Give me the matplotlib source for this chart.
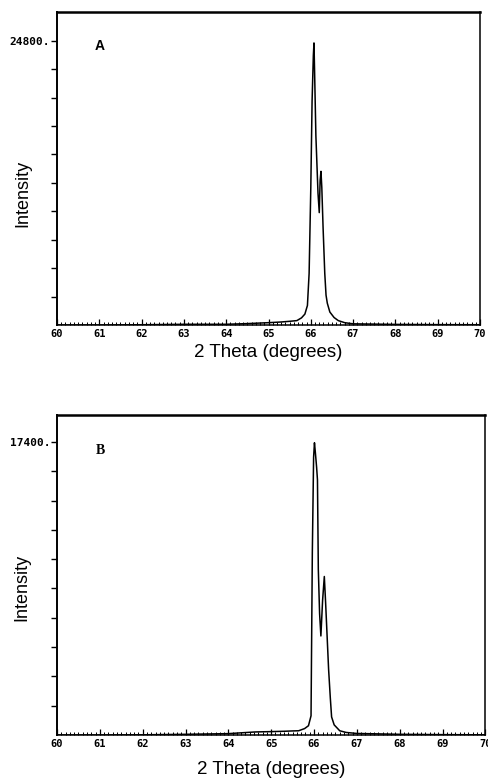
import numpy as np
import matplotlib
matplotlib.use('Agg')
import matplotlib.pyplot as plt
from matplotlib.ticker import FixedLocator, MultipleLocator, FuncFormatter

# panel A: 2 theta (deg) vs intensity
theta_a = [60.0, 61.0, 62.0, 63.0, 64.0, 64.5, 65.0, 65.3, 65.5, 65.67, 65.78, 65.86,
           65.92, 65.96, 66.0, 66.03, 66.06, 66.075, 66.09, 66.12, 66.14, 66.17, 66.2,
           66.22, 66.24, 66.26, 66.29, 66.33, 66.36, 66.39, 66.45, 66.55, 66.65, 66.8,
           67.0, 68.0, 69.0, 70.0]
int_a = [0, 0, 20, 60, 60, 120, 200, 260, 320, 380, 620, 950,
         1700, 4500, 12000, 19500, 23500, 24600, 22000, 16500, 14500, 11500, 9800,
         12600, 13400, 12000, 8500, 4500, 2600, 1900, 1130, 650, 380, 200,
         100, 50, 30, 20]

# panel B
theta_b = [60.0, 61.0, 62.0, 63.0, 64.0, 64.63, 65.0, 65.3, 65.5, 65.64, 65.78, 65.87,
           65.93, 65.96, 65.99, 66.01, 66.03, 66.06, 66.08, 66.1, 66.13, 66.16, 66.2,
           66.24, 66.27, 66.31, 66.34, 66.38, 66.41, 66.47, 66.6, 66.75, 67.0, 68.0,
           69.0, 70.0]
int_b = [0, 0, 10, 40, 80, 180, 200, 220, 240, 250, 380, 550,
         1140, 10800, 16500, 17350, 16800, 15900, 15150, 9830, 7200, 5880, 8000,
         9410, 7870, 5600, 3900, 2200, 1070, 600, 250, 150, 90, 40,
         20, 10]

x_ticks = list(range(60, 71))
ytop_a = 24800
ytop_b = 17400

fig = plt.figure(figsize=(4.89, 7.78), dpi=100)
ax_a = fig.add_axes([0.1166, 0.5823, 0.865, 0.4023])
ax_b = fig.add_axes([0.1166, 0.0553, 0.876, 0.4113])

tick_font = {'family': 'DejaVu Sans Mono', 'weight': 'bold', 'size': 7.5}
label_font = {'family': 'Liberation Sans', 'size': 13.5}


def style(ax, ytop, ymax, letter, letter_family, lab_y):
    ax.set_xlim(60, 70)
    ax.set_ylim(0, ymax)
    for s in ax.spines.values():
        s.set_linewidth(1.1)
    ax.spines['top'].set_linewidth(1.8)
    ax.spines['left'].set_linewidth(1.4)
    ax.xaxis.set_major_locator(FixedLocator(x_ticks))
    ax.xaxis.set_minor_locator(MultipleLocator(0.1))
    ax.tick_params(axis='x', which='major', direction='in', length=4, width=0.9, pad=3)
    ax.tick_params(axis='x', which='minor', direction='in', length=2, width=0.7)
    ax.set_xticklabels([str(t) for t in x_ticks], fontdict=tick_font)
    yt = [ytop * k / 10 for k in range(1, 11)]
    ax.yaxis.set_major_locator(FixedLocator(yt))
    ax.yaxis.set_major_formatter(FuncFormatter(
        lambda v, p: f'{int(round(v))}.' if abs(v - ytop) < 1 else ''))
    ax.tick_params(axis='y', direction='out', length=4, width=1.0, pad=1)
    for t in ax.get_yticklabels():
        t.set_fontfamily('DejaVu Sans Mono')
        t.set_fontweight('bold')
        t.set_fontsize(8)
    ax.set_xlabel('2 Theta (degrees)', fontdict=label_font)
    ax.set_ylabel('Intensity', fontdict={'family': 'Liberation Sans', 'size': 13})
    ax.xaxis.set_label_coords(0.5, lab_y)
    ax.text(0.09, 0.89, letter, transform=ax.transAxes, fontsize=10,
            fontweight='bold', family=letter_family, va='center', ha='left')


ax_a.plot(theta_a, int_a, color='black', linewidth=1.1)
style(ax_a, ytop_a, 27300, 'A', 'Liberation Sans', -0.062)
ax_a.yaxis.set_label_coords(-0.061, 0.42)

ax_b.plot(theta_b, int_b, color='black', linewidth=1.1)
style(ax_b, ytop_b, 19000, 'B', 'Liberation Serif', -0.08)
ax_b.yaxis.set_label_coords(-0.062, 0.46)

fig.savefig('out.png', dpi=100)
